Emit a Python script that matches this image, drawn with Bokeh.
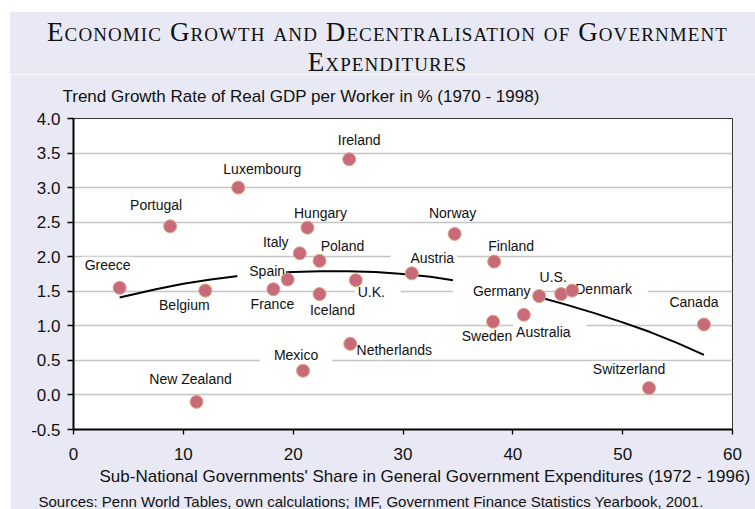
from bokeh.plotting import figure
from bokeh.models import Range1d, FixedTicker, PrintfTickFormatter, Label, Title, Div, Spacer
from bokeh.layouts import column, row
from bokeh.embed import file_html
from bokeh.resources import INLINE

# ---------------- data ----------------
countries = ["Greece", "Belgium", "Portugal", "Luxembourg", "Ireland", "Hungary", "Italy",
             "Poland", "Spain", "France", "Iceland", "U.K.", "Norway", "Finland", "Austria",
             "Germany", "U.S.", "Denmark", "Canada", "Sweden", "Australia", "Netherlands",
             "Switzerland", "Mexico", "New Zealand"]
share = [4.2, 12.0, 8.8, 15.0, 25.1, 21.3, 20.6,
         22.4, 19.5, 18.2, 22.4, 25.7, 34.7, 38.3, 30.8,
         42.4, 44.4, 45.4, 57.4, 38.2, 41.0, 25.2,
         52.4, 20.9, 11.2]
growth = [1.55, 1.51, 2.44, 3.00, 3.41, 2.42, 2.05,
          1.94, 1.67, 1.53, 1.46, 1.66, 2.33, 1.93, 1.76,
          1.43, 1.46, 1.51, 1.02, 1.06, 1.16, 0.74,
          0.10, 0.35, -0.10]

trend_x = [4.2, 7.5, 10, 12.5, 15, 17.5, 20, 22.5, 25, 27.5, 30, 32.5, 35, 37.5,
           40, 42.5, 45, 47.5, 50, 52.5, 55, 57.4]
trend_y = [1.41, 1.53, 1.61, 1.67, 1.72, 1.76, 1.78, 1.79, 1.79, 1.78, 1.75, 1.71,
           1.65, 1.58, 1.50, 1.41, 1.30, 1.18, 1.05, 0.91, 0.75, 0.58]

x_ticks = [0, 10, 20, 30, 40, 50, 60]
y_ticks = [-0.5, 0.0, 0.5, 1.0, 1.5, 2.0, 2.5, 3.0, 3.5, 4.0]
grid_ticks = [0.0, 0.5, 1.0, 1.5, 2.0, 2.5, 3.0, 3.5]

title_text = "Economic Growth and Decentralisation of Government<br>Expenditures"
y_title = "Trend Growth Rate of Real GDP per Worker in % (1970 - 1998)"
x_title = "Sub-National Governments' Share in General Government Expenditures (1972 - 1996)"
source_text = "Sources: Penn World Tables, own calculations; IMF, Government Finance Statistics Yearbook, 2001."

# ---------------- layout of labels (screen px offsets, box padding) ----------------
lab_dx = [-12, -21, -14, 24, 10, 13, -24, 23, -26, -1, 13, 22, -2, 17, 12,
          -46, -8, 38, -10, -6, 26, 44, -20, -7, -6]
lab_dy = [23, -14, 21, 19, 19, 15, 11, 15, 9, -15, -16, -12, 21, 16, 15,
          7, 17, 2, 22, -14, -17, -6, 19, 16, 23]
pad_special = {"Spain": (12, 1, 0), "Germany": (20, 3, 4), "U.K.": (3, 16, 0),
               "Mexico": (14, 14, 0), "Austria": (20, 3, 0), "Denmark": (3, 16, 0),
               "Australia": (3, 16, 0)}

LAV = "#E8E9F5"
FONT = "Liberation Sans"

title_div = Div(
    text='<div style="display:block;width:745px;box-sizing:border-box;'
         'font-family:\'Liberation Serif\',\'Times New Roman\',serif;'
         'font-variant:small-caps;font-size:27px;letter-spacing:1.1px;line-height:30px;'
         'text-align:center;color:#111;padding:5px 0 0 10px;">' + title_text + '</div>',
    width=745, height=62, margin=(0, 0, 0, 0),
    styles={"background-color": LAV})

p = figure(frame_width=659, frame_height=311,
           x_range=Range1d(0, 60), y_range=Range1d(-0.5, 4.0),
           output_backend="svg", toolbar_location=None,
           min_border_left=63, min_border_right=23, min_border_top=44, min_border_bottom=80,
           background_fill_color="white", border_fill_color=LAV,
           outline_line_color="#333333", outline_line_width=1)

p.title.text = y_title
p.title.align = "left"
p.title.vertical_align = "top"
p.title.offset = -11
p.title.standoff = 22
p.title.text_font = FONT
p.title.text_font_size = "17px"
p.title.text_font_style = "normal"
p.title.text_color = "#111111"

p.xgrid.visible = False
p.ygrid.ticker = FixedTicker(ticks=grid_ticks)
p.ygrid.grid_line_color = "#C4C4C4"
p.ygrid.grid_line_width = 1.3

for ax, ticks, fmt in ((p.xaxis, x_ticks, "%d"), (p.yaxis, y_ticks, "%.1f")):
    ax.ticker = FixedTicker(ticks=ticks)
    ax.formatter = PrintfTickFormatter(format=fmt)
    ax.axis_line_color = "black"
    ax.axis_line_width = 2
    ax.major_tick_line_color = "black"
    ax.major_tick_line_width = 1.3
    ax.major_tick_in = 0
    ax.minor_tick_line_color = None
    ax.major_label_text_font = FONT
    ax.major_label_text_font_size = "17px"
    ax.major_label_text_color = "#111111"
p.xaxis.major_tick_out = 5
p.xaxis.major_label_standoff = 13
p.yaxis.major_tick_out = 6
p.yaxis.major_label_standoff = 7

xt = Title(text=x_title, align="left", offset=26, text_font=FONT, text_font_size="17px",
           text_font_style="normal", text_color="#111111", standoff=4)
p.add_layout(xt, "below")
st = Title(text=source_text, align="left", offset=-35, text_font=FONT, text_font_size="15px",
           text_font_style="normal", text_color="#111111", standoff=7)
p.add_layout(st, "below")

p.line(trend_x, trend_y, line_color="black", line_width=2)

for name, x, y, dx, dy in zip(countries, share, growth, lab_dx, lab_dy):
    pl, pr, pt = pad_special.get(name, (3, 3, 0))
    p.add_layout(Label(x=x, y=y, text=name, x_offset=dx, y_offset=dy,
                       text_align="center", text_baseline="middle",
                       text_font=FONT, text_font_size="14px", text_color="#111111",
                       background_fill_color="white",
                       padding=dict(left=pl, right=pr, top=pt, bottom=0)))

p.scatter(share, growth, size=13, fill_color="#C96A7B", line_color="#D9A77F",
          line_width=1, level="overlay")

layout = column(Spacer(height=12),
                row(Spacer(width=10), column(title_div, p, spacing=0), spacing=0),
                spacing=0)

open("out.html", "w").write(file_html(layout, INLINE))
